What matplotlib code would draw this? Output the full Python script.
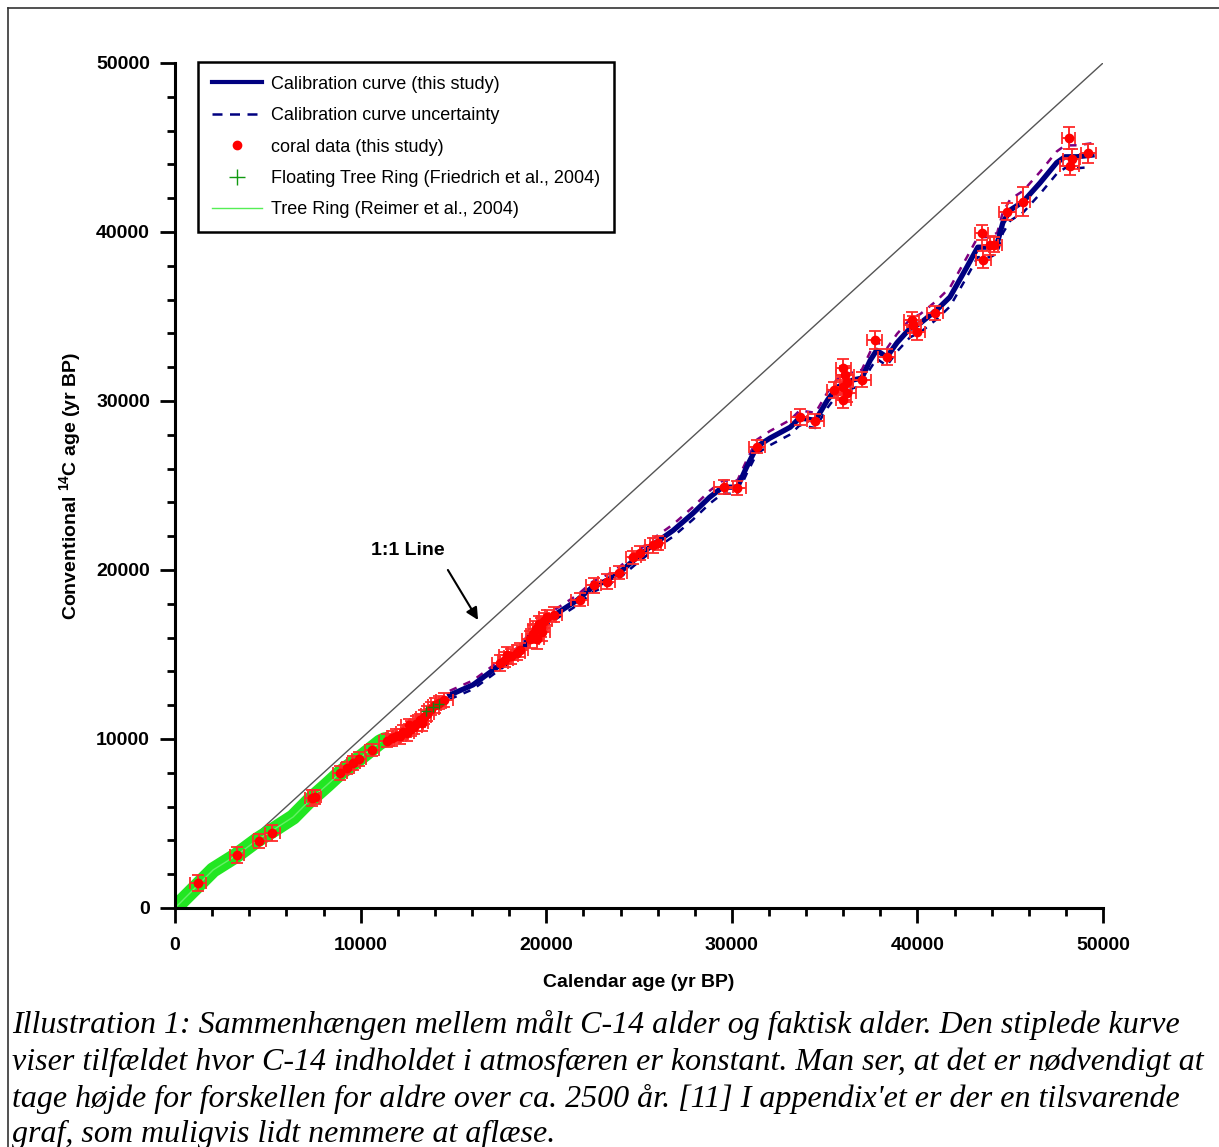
import matplotlib.pyplot as plt
from matplotlib.lines import Line2D
from matplotlib.ticker import MultipleLocator

plt.rcParams['font.family'] = ['Liberation Sans', 'DejaVu Sans']
plt.rcParams['mathtext.fontset'] = 'custom'
plt.rcParams['mathtext.rm'] = 'Liberation Sans'
plt.rcParams['mathtext.bf'] = 'Liberation Sans:bold'

# 1:1 reference
one_to_one = [0, 50000]

# Tree ring (Reimer et al., 2004)
tree_x = [0, 970, 2050, 3340, 4420, 5280, 6360, 7270, 8190, 8890, 9970, 11050, 11300]
tree_y = [0, 1065, 2250, 3140, 4020, 4610, 5380, 6390, 7280, 7990, 8880, 9820, 9950]

# Floating tree ring (Friedrich et al., 2004)
ftr_x = [13500, 13900, 14200]
ftr_y = [11650, 11890, 12050]

# calibration curve (this study)
cal_x = [14800, 16050, 17350, 18600, 19500, 20600, 21650, 22500, 23300, 24000,
         24900, 25750, 26850, 27900, 28800, 29500, 30300, 30800, 31350, 32050,
         33150, 33650, 34500, 35150, 35650, 36550, 37000, 37450, 37800, 38350,
         38900, 39600, 40150, 41050, 41750, 42650, 43250, 43900, 44300, 44600,
         45000, 45700, 46600, 47500, 47950, 48600, 49400]
cal_y = [12600, 13200, 14250, 15250, 16600, 17450, 18200, 19000, 19400, 19900,
         20750, 21500, 22350, 23350, 24300, 24900, 24900, 26100, 27300, 27800,
         28450, 29000, 28850, 30050, 30800, 31250, 31350, 32400, 33000, 32600,
         33450, 34300, 34600, 35400, 36150, 37900, 39100, 39100, 39350, 40550,
         41300, 41800, 42900, 44100, 44450, 44450, 44550]
cal_err = [250, 260, 270, 280, 290, 300, 300, 310, 320, 330,
           340, 350, 360, 370, 380, 380, 400, 400, 410, 420,
           430, 440, 450, 460, 470, 480, 490, 500, 500, 510,
           520, 530, 540, 550, 560, 580, 590, 600, 610, 620,
           630, 640, 650, 660, 670, 680, 700]

# coral data (this study)
coral_x = [1240, 3340, 4530, 5230, 7380, 7540, 8890, 9270, 9590, 9910, 10610,
           11400, 11700, 11900, 12100, 12300, 12500, 12600, 12700, 12900, 13000,
           13200, 13300, 13400, 13600, 13800, 14000, 14200, 14500,
           17500, 17800, 17900, 18100, 18400, 18600,
           19150, 19300, 19450, 19500, 19600, 19700, 19750, 19900, 20050,
           20400, 21800, 22550, 23250, 23900, 24700, 25050, 25750, 26000,
           29550, 30250, 31350, 33650, 34500,
           35500, 36000, 36100, 36200, 36000, 36200, 36000,
           37000, 37700, 38350, 39700, 39750, 40000, 40950,
           43450, 43550, 43900, 44150, 44850, 45700,
           48150, 48300, 48200, 49200]
coral_y = [1480, 3140, 3970, 4440, 6510, 6570, 7990, 8280, 8580, 8820, 9350,
           9900, 10050, 10200, 10150, 10400, 10350, 10800, 10600, 10700, 10900,
           11100, 10950, 11300, 11500, 11800, 12000, 12150, 12300,
           14500, 14700, 14950, 14900, 15100, 15250,
           15900, 16200, 16500, 15900, 16800, 16600, 16300, 17000, 17200,
           17350, 18250, 19100, 19300, 19850, 20750, 21000, 21450, 21600,
           24900, 24850, 27300, 29050, 28800,
           30650, 31950, 31550, 31100, 30800, 30450, 30050,
           31250, 33600, 32600, 34800, 34500, 34100, 35200,
           39950, 38350, 39200, 39250, 41200, 41800,
           45550, 44300, 43900, 44650]
coral_xerr = [450, 400, 350, 400, 400, 350, 400, 350, 350, 400, 400,
              400, 350, 400, 350, 400, 350, 400, 350, 400, 350,
              400, 350, 400, 350, 400, 350, 400, 450,
              450, 400, 450, 400, 450, 400,
              450, 400, 450, 400, 450, 400, 450, 400, 450,
              450, 450, 400, 450, 450, 400, 450, 450, 400,
              500, 500, 450, 450, 450,
              350, 400, 500, 350, 400, 500, 400,
              500, 400, 450, 400, 450, 400, 450,
              350, 400, 450, 400, 450, 350,
              350, 450, 500, 400]
coral_yerr = [500, 450, 400, 450, 450, 400, 400, 350, 400, 400, 350,
              400, 450, 400, 450, 400, 450, 400, 450, 400, 450,
              400, 450, 400, 450, 400, 450, 400, 400,
              450, 450, 500, 450, 450, 400,
              500, 550, 500, 550, 500, 550, 500, 450, 450,
              450, 400, 450, 450, 400, 400, 400, 450, 400,
              400, 400, 400, 450, 400,
              450, 550, 500, 500, 450, 500, 450,
              450, 550, 450, 450, 500, 500, 400,
              450, 500, 550, 450, 500, 850,
              650, 600, 500, 550]

fig = plt.figure(figsize=(12.19, 11.47), dpi=100)
ax = fig.add_axes([0.1436, 0.2084, 0.7613, 0.7367])

ax.plot(one_to_one, one_to_one, color='#555555', lw=1.0, zorder=1)
ax.plot(tree_x, tree_y, color='#22e622', lw=11, solid_capstyle='round', zorder=2)
ax.plot(tree_x, tree_y, color='#66f066', lw=1, zorder=2)

upper = [y + e for y, e in zip(cal_y, cal_err)]
lower = [y - e for y, e in zip(cal_y, cal_err)]
ax.plot(cal_x, upper, color='#800080', lw=1.8, ls=(0, (3, 3)), zorder=3)
ax.plot(cal_x, lower, color='#000080', lw=1.8, ls=(0, (3, 3)), zorder=3)
ax.plot(cal_x, cal_y, color='#000080', lw=3.8, zorder=4)

ax.errorbar(coral_x, coral_y, xerr=coral_xerr, yerr=coral_yerr, fmt='o',
            color='red', ms=6, ecolor='#ff2a2a', elinewidth=1.4, capsize=4,
            capthick=1.3, zorder=5)
ax.plot(ftr_x, ftr_y, '+', color='#118811', ms=7, zorder=6)

ax.text(12550, 21180, '1:1 Line', ha='center', va='center', fontsize=14,
        fontweight='bold')
ax.annotate('', xy=(16325, 17040), xytext=(14700, 20000),
            arrowprops=dict(arrowstyle='-|>', color='black', lw=1.5,
                            mutation_scale=18, shrinkA=0, shrinkB=0))

ax.set_xlim(0, 50000)
ax.set_ylim(0, 50000)
ax.set_xticks([0, 10000, 20000, 30000, 40000, 50000])
ax.set_yticks([0, 10000, 20000, 30000, 40000, 50000])
ax.xaxis.set_minor_locator(MultipleLocator(2000))
ax.yaxis.set_minor_locator(MultipleLocator(2000))
ax.tick_params(which='major', direction='out', length=11, width=2, labelsize=14, pad=7)
ax.tick_params(axis='x', which='major', pad=10)
ax.tick_params(which='minor', direction='out', length=6, width=2)
for lab in ax.get_xticklabels() + ax.get_yticklabels():
    lab.set_fontweight('bold')
for s in ['top', 'right']:
    ax.spines[s].set_visible(False)
for s in ['left', 'bottom']:
    ax.spines[s].set_linewidth(2.2)

ax.set_xlabel('Calendar age (yr BP)', fontsize=14, fontweight='bold', labelpad=14)
ax.set_ylabel(r'Conventional $^{\mathbf{14}}$C age (yr BP)', fontsize=14,
              fontweight='bold', labelpad=9)

handles = [
    Line2D([], [], color='#000080', lw=3),
    Line2D([], [], color='#000080', lw=1.8, ls=(0, (4, 3))),
    Line2D([], [], color='red', marker='o', ls='none', ms=6),
    Line2D([], [], color='#119911', marker='+', ls='none', ms=11),
    Line2D([], [], color='#55ee55', lw=1),
]
labels = ['Calibration curve (this study)', 'Calibration curve uncertainty',
          'coral data (this study)', 'Floating Tree Ring (Friedrich et al., 2004)',
          'Tree Ring (Reimer et al., 2004)']
leg = ax.legend(handles, labels, loc='upper left', bbox_to_anchor=(0.0248, 1.001),
                borderaxespad=0, fontsize=13, fancybox=False, framealpha=1,
                edgecolor='black', handlelength=2.8, handletextpad=0.5,
                labelspacing=0.8, borderpad=0.75)
leg.get_frame().set_linewidth(1.8)

# outer frame of the illustration
W, H = 1219, 1147
fig.add_artist(Line2D([8 / W, 1], [1 - 8 / H, 1 - 8 / H], color='#333333', lw=1.2))
fig.add_artist(Line2D([8 / W, 8 / W], [0, 1 - 8 / H], color='#333333', lw=1.2))

caption = ["Illustration 1: Sammenhængen mellem målt C-14 alder og faktisk alder. Den stiplede kurve",
           "viser tilfældet hvor C-14 indholdet i atmosfæren er konstant. Man ser, at det er nødvendigt at",
           "tage højde for forskellen for aldre over ca. 2500 år. [11] I appendix'et er der en tilsvarende",
           "graf, som muligvis lidt nemmere at aflæse."]
cap_y = [1025, 1062, 1099, 1134]
for line, yy in zip(caption, cap_y):
    fig.text(12 / W, 1 - yy / H, line, family='Liberation Serif', style='italic',
             fontsize=23, ha='left', va='center')

plt.savefig('out.png', dpi=100)
